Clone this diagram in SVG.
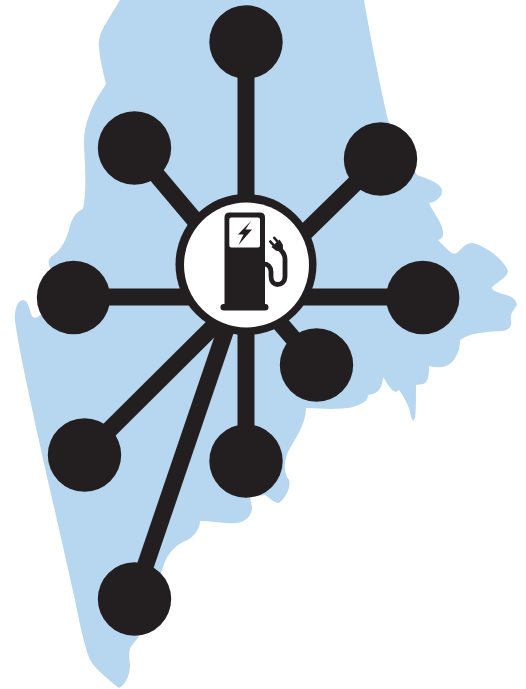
<svg xmlns="http://www.w3.org/2000/svg" width="526" height="689" viewBox="0 0 526 689">
<style>
.link{stroke:#231f20;stroke-width:17;fill:none}
.node{fill:#231f20}
</style>
<rect width="526" height="689" fill="#fff"/>
<path id="state" fill="#b7d7f0" d="M120,0 L106,23 C100,33 98,40 99,48 C100,60 103,72 106,84 C98,96 92,106 89,116 C85,126 84,134 84,145 C85,165 87,190 83,209 C76,212 72,218 70,226 C67,238 62,250 52,256 C48,259 48,263 50,268 L60,300 L40,315 C37,318 34,319 32,316 C29,310 29,301 23,300 C17,300 14,312 15,321 L18,340 C30,405 55,510 75,600 C80,625 84,645 90,660 C97,671 108,679 119,688 C126,684 130,675 130,665 C129,658 129,652 130,648 L140,635 L163,567 C166,558 171,548 183,542 C192,539 200,530 200,521 C212,521 224,524 236,523 C246,522 252,516 252,507 L250,497 L265,495 C270,498 274,503 279,503 C286,497 291,488 289,480 C283,472 284,462 288,452 C294,440 306,425 306,408 C325,409 345,410 356,406 C364,403 368,400 368,395 C375,394 382,392 383,377 C387,383 392,392 396,392 L399,390 C404,397 409,406 410,412 C411,417 412,421 414,420 C416,419 416,405 416,385 C420,384 424,385 426,382 C429,378 429,372 429,366 C440,369 450,367 455,358 C459,352 460,346 460,340 C470,333 485,332 500,331 C508,331 512,328 511,320 C510,314 513,311 517,305 C516,298 510,296 503,294 C497,292 491,290 492,287 C497,282 507,278 508,271 C505,262 490,248 473,243 C466,243 462,248 458,252 C454,255 451,253 448,250 L438,240 C442,239 444,236 443,231 C441,220 433,213 429,203 C435,202 442,198 442,191 C441,184 434,181 417,175 L388,120 C380,85 370,35 364,0 Z"/>
<g id="connectors">
<path class="link" d="M73,297H422"/>
<path class="link" d="M246,42V461"/>
<path class="link" d="M134,148L230,262"/>
<path class="link" d="M380,159L246,290"/>
<path class="link" d="M84,455L240,300"/>
<path class="link" d="M134,599L240,288"/>
<path class="link" d="M316,365L250,288"/>
</g>
<g id="node-1"><circle class="node" cx="246" cy="42" r="36.7"/></g>
<g id="node-2"><circle class="node" cx="134.500" cy="148" r="36.7"/></g>
<g id="node-3"><circle class="node" cx="380.500" cy="159" r="36.7"/></g>
<g id="node-4"><circle class="node" cx="73.500" cy="297.500" r="36.7"/></g>
<g id="node-5"><circle class="node" cx="422.700" cy="297.500" r="36.7"/></g>
<g id="node-6"><circle class="node" cx="316.500" cy="365" r="36.7"/></g>
<g id="node-7"><circle class="node" cx="84.500" cy="455" r="36.7"/></g>
<g id="node-8"><circle class="node" cx="246" cy="461" r="36.7"/></g>
<g id="node-9"><circle class="node" cx="134.500" cy="599" r="36.7"/></g>
<g id="hub">
<circle cx="246" cy="264.500" r="70.500" fill="#231f20"/>
<circle cx="246.500" cy="265" r="62.500" fill="#fff"/>
<path fill="#231f20" d="M229.500,212.500H260Q265,212.500 265,217.500V304H224.500V217.500Q224.500,212.500 229.500,212.500Z"/>
<rect x="220.500" y="304" width="48" height="6.500" rx="3.200" fill="#231f20"/>
<rect x="229.300" y="217.500" width="30.700" height="30" rx="2" fill="#fff"/>
<path fill="#231f20" d="M251,221L238,234.500H243.500L238.500,245L252,229.500H245.500Z"/>
<path fill="none" stroke="#231f20" stroke-width="4.800" d="M264,264C268,264 271,267 271,272V276C271,282 274,284.500 277.500,284.500C281,284.500 285,282 285,276V259C285,255 283,252 280,249"/>
<g transform="rotate(-42 277.500 245.500)" fill="#231f20">
<path d="M272,242.500H283L282,248.500L279.500,251.500H275.500L273,248.500Z"/>
<rect x="273.500" y="236.500" width="2.600" height="6.500" rx="1"/>
<rect x="278.900" y="236.500" width="2.600" height="6.500" rx="1"/>
</g>
</g>
</svg>
